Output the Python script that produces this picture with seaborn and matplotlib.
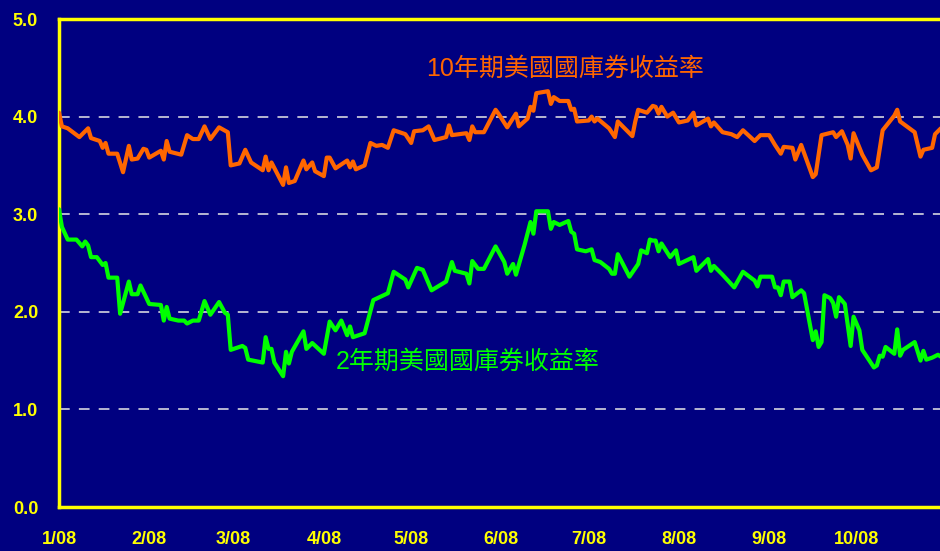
import matplotlib
matplotlib.use("Agg")
import matplotlib.pyplot as plt
import seaborn as sns
import pandas as pd

# Days since 2008-01-01 and yields (%)
ten_year_days = [0, 1, 3, 7, 10, 11, 14, 15, 16, 17, 20, 22, 24, 25, 27, 29, 30, 31, 35, 36,
                 37, 38, 42, 44, 46, 48, 50, 52, 55, 58, 59, 62, 64, 66, 70, 71, 72, 73, 77, 78,
                 79, 81, 84, 85, 87, 88, 91, 92, 93, 95, 99, 100, 101, 102, 105, 107, 109, 111, 113, 115,
                 119, 121, 122, 125, 127, 129, 133, 134, 135, 140, 141, 142, 143, 146, 150, 151, 154, 157, 158, 161,
                 162, 163, 164, 168, 169, 170, 172, 175, 176, 177, 178, 182, 183, 184, 185, 189, 191, 192, 197, 198,
                 199, 202, 204, 205, 206, 207, 209, 211, 213, 216, 218, 219, 223, 224, 225, 228, 231, 233, 235, 239,
                 241, 244, 246, 248, 249, 252, 253, 255, 259, 260, 262, 266, 267, 269, 271, 272, 273, 276, 279, 281,
                 283, 287, 288, 289, 294, 296, 297, 300, 301, 303]
ten_year_yield = [4.04, 3.90, 3.88, 3.79, 3.88, 3.78, 3.75, 3.68, 3.73, 3.62, 3.62, 3.43, 3.70, 3.56, 3.57, 3.67, 3.66, 3.58, 3.65, 3.56,
                  3.75, 3.64, 3.61, 3.81, 3.77, 3.77, 3.90, 3.77, 3.89, 3.84, 3.50, 3.52, 3.66, 3.53, 3.45, 3.59, 3.45, 3.53, 3.30, 3.48,
                  3.32, 3.34, 3.55, 3.46, 3.53, 3.44, 3.39, 3.58, 3.58, 3.47, 3.55, 3.48, 3.54, 3.46, 3.50, 3.73, 3.70, 3.71, 3.68, 3.86,
                  3.82, 3.73, 3.85, 3.86, 3.90, 3.76, 3.79, 3.91, 3.81, 3.83, 3.76, 3.90, 3.84, 3.84, 4.07, 4.03, 3.89, 4.03, 3.90, 3.98,
                  4.10, 4.06, 4.24, 4.26, 4.13, 4.20, 4.16, 4.16, 4.07, 4.08, 3.95, 3.96, 4.00, 3.95, 3.98, 3.88, 3.79, 3.95, 3.80, 3.95,
                  4.07, 4.04, 4.11, 4.10, 4.03, 4.10, 4.00, 4.04, 3.94, 3.96, 4.04, 3.91, 3.98, 3.90, 3.94, 3.84, 3.82, 3.79, 3.86, 3.75,
                  3.81, 3.81, 3.71, 3.62, 3.69, 3.68, 3.56, 3.71, 3.38, 3.41, 3.81, 3.84, 3.79, 3.85, 3.71, 3.57, 3.83, 3.61, 3.45, 3.48,
                  3.86, 4.01, 4.07, 3.95, 3.84, 3.59, 3.66, 3.68, 3.82, 3.88]

two_year_days = [0, 1, 3, 6, 8, 9, 10, 11, 13, 15, 16, 17, 20, 21, 24, 25, 27, 28, 31, 35,
                 36, 37, 38, 41, 43, 44, 46, 48, 50, 52, 55, 57, 58, 59, 63, 64, 65, 70, 71, 72,
                 73, 74, 77, 78, 79, 80, 84, 85, 87, 91, 93, 95, 97, 99, 100, 101, 105, 108, 113, 115,
                 119, 120, 123, 125, 128, 133, 135, 136, 140, 141, 142, 144, 146, 150, 153, 154, 156, 157, 160, 162,
                 163, 164, 168, 169, 170, 172, 175, 176, 177, 178, 181, 183, 184, 186, 189, 190, 191, 192, 196, 199,
                 200, 202, 203, 204, 205, 206, 207, 210, 212, 213, 218, 219, 223, 224, 225, 228, 232, 235, 239, 240,
                 241, 245, 246, 247, 248, 249, 251, 252, 255, 256, 259, 260, 261, 262, 263, 265, 266, 267, 268, 270,
                 272, 273, 275, 276, 280, 281, 282, 283, 284, 287, 288, 289, 290, 294, 296, 297, 298, 300, 302, 303]
two_year_yield = [3.05, 2.87, 2.74, 2.74, 2.67, 2.72, 2.68, 2.56, 2.56, 2.48, 2.50, 2.35, 2.35, 1.98, 2.31, 2.18, 2.18, 2.27, 2.08, 2.07,
                  1.91, 2.05, 1.93, 1.91, 1.91, 1.88, 1.91, 1.91, 2.11, 1.97, 2.10, 1.99, 1.97, 1.61, 1.65, 1.63, 1.51, 1.48, 1.74, 1.62,
                  1.62, 1.48, 1.34, 1.59, 1.47, 1.59, 1.80, 1.62, 1.68, 1.57, 1.90, 1.81, 1.91, 1.76, 1.85, 1.74, 1.78, 2.12, 2.19, 2.41,
                  2.33, 2.25, 2.45, 2.43, 2.22, 2.31, 2.51, 2.42, 2.39, 2.29, 2.52, 2.44, 2.44, 2.67, 2.51, 2.39, 2.49, 2.38, 2.69, 2.92,
                  2.80, 3.03, 3.03, 2.85, 2.92, 2.89, 2.93, 2.82, 2.80, 2.64, 2.62, 2.64, 2.53, 2.51, 2.44, 2.39, 2.39, 2.59, 2.36, 2.49,
                  2.63, 2.60, 2.74, 2.73, 2.73, 2.62, 2.70, 2.56, 2.63, 2.49, 2.56, 2.42, 2.54, 2.42, 2.47, 2.38, 2.25, 2.41, 2.32, 2.26,
                  2.36, 2.36, 2.25, 2.25, 2.17, 2.31, 2.31, 2.15, 2.22, 2.19, 1.71, 1.80, 1.64, 1.69, 2.17, 2.14, 2.09, 1.95, 2.15, 2.08,
                  1.65, 1.95, 1.81, 1.61, 1.43, 1.45, 1.55, 1.54, 1.64, 1.57, 1.82, 1.55, 1.61, 1.69, 1.50, 1.60, 1.51, 1.53, 1.56, 1.54]

series_names = ["10年期美國國庫券收益率", "2年期美國國庫券收益率"]
series_colors = ["#FF6600", "#00FF00"]
month_labels = ["1/08", "2/08", "3/08", "4/08", "5/08", "6/08", "7/08", "8/08", "9/08", "10/08"]
y_ticks = [0.0, 1.0, 2.0, 3.0, 4.0, 5.0]

start = pd.Timestamp("2008-01-01")

df = pd.concat([
    pd.DataFrame({"date": start + pd.to_timedelta(ten_year_days, unit="D"),
                  "yield": ten_year_yield, "series": series_names[0]}),
    pd.DataFrame({"date": start + pd.to_timedelta(two_year_days, unit="D"),
                  "yield": two_year_yield, "series": series_names[1]}),
], ignore_index=True)

navy = "#000080"
yellow = "#FFFF00"

sns.set_theme(style="dark")
plt.rcParams["font.family"] = ["Liberation Sans", "Noto Sans CJK TC", "DejaVu Sans"]

fig = plt.figure(figsize=(9.4, 5.51), dpi=100, facecolor=navy)
ax = fig.add_axes([59 / 940, 1 - 507 / 551, 1 - 59 / 940, (507 - 19) / 551])
ax.set_facecolor(navy)

sns.lineplot(data=df, x="date", y="yield", hue="series", hue_order=series_names,
             palette=series_colors, estimator=None, linewidth=3.0, legend=False, ax=ax, zorder=3)

# Dashed reference lines
for yv in y_ticks[1:-1]:
    ax.axhline(yv, color="#E8E8E8", linewidth=1.1, dashes=(7, 6), zorder=1)

ax.set_ylim(0, 5)
ax.set_xlim(start, start + pd.Timedelta(days=302.7))
ax.set_yticks(y_ticks)
ax.set_yticklabels([f"{v:.1f}" for v in y_ticks])
ax.set_xticks(pd.date_range(start, periods=len(month_labels), freq="MS"))
ax.set_xticklabels(month_labels)
ax.set_xlabel("")
ax.set_ylabel("")
ax.grid(False)

ax.tick_params(axis="both", direction="in", colors=yellow, length=6, width=2,
               labelsize=13, labelcolor=yellow)
ax.tick_params(axis="y", pad=15)
ax.tick_params(axis="x", pad=17)
for lab in ax.get_xticklabels() + ax.get_yticklabels():
    lab.set_fontweight("bold")

for side in ["left", "bottom", "top"]:
    ax.spines[side].set_color(yellow)
    ax.spines[side].set_linewidth(2.5)
ax.spines["right"].set_visible(False)

# Series captions
ax.text(start + pd.Timedelta(days=174), 4.49, series_names[0], color=series_colors[0],
        fontsize=18, ha="center", va="center")
ax.text(start + pd.Timedelta(days=140.5), 1.49, series_names[1], color=series_colors[1],
        fontsize=18, ha="center", va="center")

fig.savefig("out.png", dpi=100, facecolor=navy)
